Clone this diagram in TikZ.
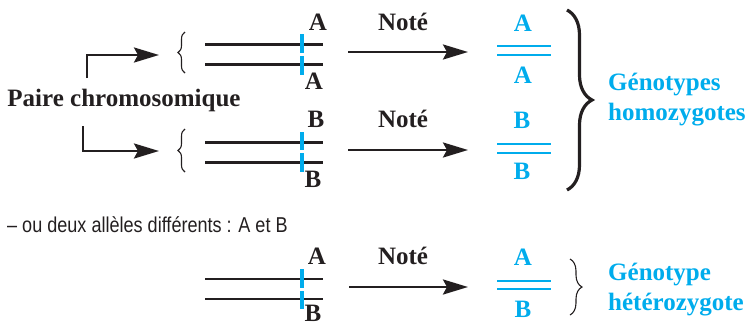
\documentclass[tikz,border=0pt]{standalone}
\usepackage{fontspec}
\usepackage{graphicx}
\setmainfont{Liberation Serif}
\newfontfamily\notesans{Liberation Sans}
\usetikzlibrary{arrows.meta,decorations.pathreplacing}
\definecolor{ink}{RGB}{35,31,32}
\definecolor{allele}{RGB}{0,172,236}
\tikzset{
  lbl/.style={font=\fontsize{25}{25}\selectfont\bfseries, text=ink, inner sep=0pt, anchor=base},
  blbl/.style={lbl, text=allele},
  gen/.style={font=\fontsize{25}{25}\selectfont\bfseries, text=allele, inner sep=0pt, anchor=base west},
  chromo/.style={draw=ink, line width=2.8pt},
  locus/.style={draw=allele, line width=3.8pt},
  bar/.style={draw=allele, line width=2.8pt},
  arr/.style={draw=ink, line width=2.7pt, -{Stealth[length=25pt,width=15pt,inset=4pt]}},
  thinbrace/.style={draw=ink, line width=1.1pt, decorate, decoration={brace, amplitude=#1}},
  bigbrace/.style={draw=ink, line width=3.2pt, decorate, decoration={brace, amplitude=25pt}}
}
\begin{document}
\begin{tikzpicture}[x=1pt, y=-1pt]
\useasboundingbox (0,0) rectangle (756,325);

% ---- homozygous pairs ----
\node[lbl, anchor=base] (paire) at (124,106) {Paire chromosomique};
\coordinate (t0) at (87,78);
\coordinate (t1) at (159,55);
\coordinate (b0) at (83,126);
\coordinate (b1) at (159,151);
\draw[arr] (t0) |- (t1);
\draw[arr] (b0) |- (b1);

% pair A/A
\draw[thinbrace=7pt] (185,73) -- (185,32);
\draw[chromo] (205,44.5) -- (323,44.5);
\draw[chromo] (205,64.5) -- (323,64.5);
\draw[locus] (302,34) -- (302,53);
\draw[locus] (302,56) -- (302,75);
\node[lbl] (aa1) at (318,30) {A};
\node[lbl] (aa2) at (314,89) {A};

% pair B/B
\draw[thinbrace=7pt] (185,172) -- (185,129);
\draw[chromo] (205,142.3) -- (323,142.3);
\draw[chromo] (205,162.3) -- (323,162.3);
\draw[locus] (302,132) -- (302,150);
\draw[locus] (302,153) -- (302,172);
\node[lbl] (bb1) at (316,127) {B};
\node[lbl] (bb2) at (313,187) {B};

% notation arrows
\node[lbl] (n1) at (403,30) {Noté};
\node[lbl] (n2) at (403,127) {Noté};
\coordinate (a1s) at (348,52);
\coordinate (a1e) at (468,52);
\coordinate (a2s) at (348,150);
\coordinate (a2e) at (468,150);
\draw[arr] (a1s) -- (a1e);
\draw[arr] (a2s) -- (a2e);

% notations A/A and B/B
\node[blbl] (na1) at (523,31) {A};
\draw[bar] (497,46) -- (551,46);
\draw[bar] (497,55) -- (551,55);
\node[blbl] (na2) at (523,83) {A};
\node[blbl] (nb1) at (522,128) {B};
\draw[bar] (497,144) -- (551,144);
\draw[bar] (497,153) -- (551,153);
\node[blbl] (nb2) at (522,179) {B};

\draw[bigbrace] (567,10) -- (567,190);
\node[gen] (g1) at (608,90) {Génotypes};
\node[gen] (g2) at (608,120) {homozygotes};

% ---- heterozygous pair ----
\node[inner sep=0pt, anchor=base west, text=ink, font=\notesans\fontsize{21.5}{21.5}\selectfont] (het) at (7,232)
  {\scalebox{0.84}[1]{– ou deux allèles différents : A et B}};

\draw[chromo] (205,279) -- (323,279);
\draw[chromo] (205,299) -- (323,299);
\draw[locus] (302,269) -- (302,288);
\draw[locus] (302,291) -- (302,309);
\node[lbl] (ab1) at (317,264) {A};
\node[lbl] (ab2) at (313,321) {B};

\node[lbl] (n3) at (403,264) {Noté};
\coordinate (a3s) at (349,287);
\coordinate (a3e) at (468,287);
\draw[arr] (a3s) -- (a3e);

\node[blbl] (nab1) at (523,265) {A};
\draw[bar] (497,281) -- (551,281);
\draw[bar] (497,289) -- (551,289);
\node[blbl] (nab2) at (523,317) {B};

\draw[thinbrace=12pt] (570,259) -- (570,315);
\node[gen] (g3) at (608,280) {Génotype};
\node[gen] (g4) at (608,310) {hétérozygote};
\end{tikzpicture}
\end{document}
